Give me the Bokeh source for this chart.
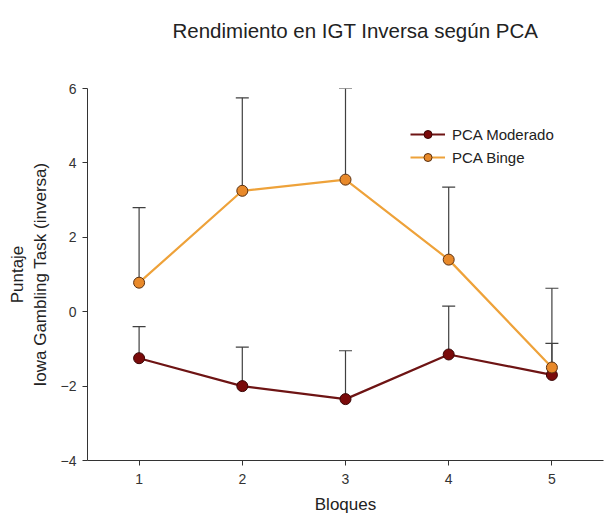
from bokeh.plotting import figure
from bokeh.models import ColumnDataSource, Range1d, FixedTicker, Legend, LegendItem, Whisker, Title
from bokeh.embed import file_html
from bokeh.resources import INLINE

bloques = [1, 2, 3, 4, 5]
moderado = [-1.25, -2.0, -2.35, -1.15, -1.7]
moderado_upper = [-0.4, -0.95, -1.05, 0.15, -0.85]
binge = [0.78, 3.25, 3.55, 1.4, -1.5]
binge_upper = [2.8, 5.75, 6.0, 3.35, 0.63]
titulo = "Rendimiento en IGT Inversa según PCA"

FONT = "Liberation Sans"
MOD_LINE = "#6e1414"
MOD_FILL = "#7a0a0a"
BIN_LINE = "#eea23a"
BIN_FILL = "#e8892a"
ERR = "#404040"

p = figure(width=605, height=519, output_backend="svg", toolbar_location=None,
           x_range=Range1d(0.5, 5.5), y_range=Range1d(-4, 6),
           min_border_left=87, min_border_right=2, min_border_top=88, min_border_bottom=59)
p.outline_line_color = None
p.grid.visible = False
p.background_fill_color = "white"
p.border_fill_color = "white"

spacer = Title(text=" ", text_font_size="27px", text_font=FONT)
p.add_layout(spacer, "above")
t = Title(text=titulo, align="left", offset=85, text_font=FONT, text_font_size="20.5px",
          text_font_style="normal", text_color="#222222")
p.add_layout(t, "above")

src_m = ColumnDataSource(dict(x=bloques, y=moderado, up=moderado_upper))
src_b = ColumnDataSource(dict(x=bloques, y=binge, up=binge_upper))

for src in (src_m, src_b):
    w = Whisker(base="x", lower="y", upper="up", source=src, dimension="height",
                line_color=ERR, line_width=1.2)
    w.upper_head.size = 13
    w.upper_head.line_color = ERR
    w.upper_head.line_width = 1.2
    w.lower_head = None
    p.add_layout(w)

lm = p.line("x", "y", source=src_m, line_color=MOD_LINE, line_width=2.2)
sm = p.scatter("x", "y", source=src_m, size=11, fill_color=MOD_FILL, line_color="#3a0505", line_width=1)
lb = p.line("x", "y", source=src_b, line_color=BIN_LINE, line_width=2.2)
sb = p.scatter("x", "y", source=src_b, size=11, fill_color=BIN_FILL, line_color="#5a3010", line_width=1)

legend = Legend(items=[LegendItem(label="PCA Moderado", renderers=[lm, sm]),
                       LegendItem(label="PCA Binge", renderers=[lb, sb])],
                location=(323, 293), border_line_color=None, background_fill_alpha=0,
                label_text_font=FONT, label_text_font_size="15px", label_text_color="#222222",
                glyph_width=35, glyph_height=20, spacing=3, padding=0, margin=0, label_standoff=7)
p.add_layout(legend, "center")

p.xaxis.ticker = FixedTicker(ticks=bloques)
p.yaxis.ticker = FixedTicker(ticks=[-4, -2, 0, 2, 4, 6])
for ax in (p.xaxis[0], p.yaxis[0]):
    ax.axis_line_color = "#333333"
    ax.major_tick_line_color = "#333333"
    ax.minor_tick_line_color = None
    ax.major_tick_in = 0
    ax.major_tick_out = 5
    ax.major_label_text_font = FONT
    ax.major_label_text_font_size = "14px"
    ax.major_label_text_color = "#333333"
    ax.axis_label_text_font = FONT
    ax.axis_label_text_font_size = "17px"
    ax.axis_label_text_font_style = "normal"
    ax.axis_label_text_color = "#222222"

p.xaxis.axis_label = "Bloques"
p.xaxis.major_label_standoff = 8
p.xaxis.axis_label_standoff = 8
p.yaxis.axis_label = "Puntaje\nIowa Gambling Task (inversa)"
p.yaxis.major_label_standoff = 6
p.yaxis.axis_label_standoff = 8

open("out.html", "w").write(file_html(p, INLINE))
